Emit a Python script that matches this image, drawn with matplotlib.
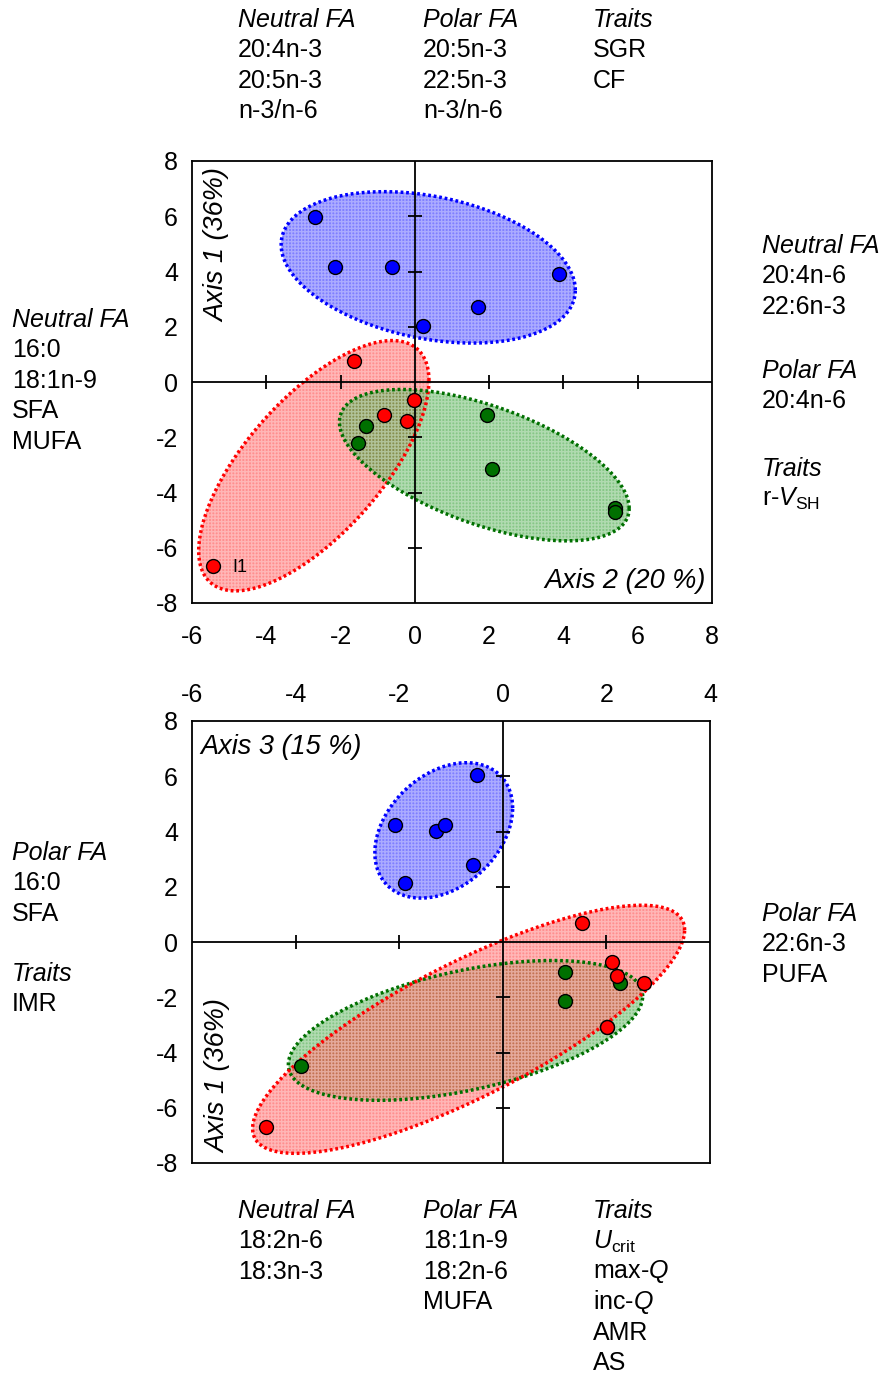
import numpy as np
import matplotlib.pyplot as plt

plt.rcParams['font.family'] = ['Liberation Sans', 'DejaVu Sans']
plt.rcParams['mathtext.fontset'] = 'custom'
plt.rcParams['mathtext.rm'] = 'Liberation Sans'
plt.rcParams['mathtext.it'] = 'Liberation Sans:italic'
plt.rcParams['axes.unicode_minus'] = False

W, H = 883, 1376

# ---- data: top panel (x = Axis 2, y = Axis 1) ----
top_blue_x = [-2.68, -2.14, -0.62, 3.89, 1.71, 0.23]
top_blue_y = [5.96, 4.15, 4.15, 3.92, 2.72, 2.03]
top_red_x = [-1.63, -0.01, -0.83, -0.22, -5.44]
top_red_y = [0.77, -0.66, -1.20, -1.42, -6.65]
top_green_x = [-1.31, -1.52, 1.94, 2.08, 5.39, 5.39]
top_green_y = [-1.60, -2.20, -1.18, -3.16, -4.55, -4.72]

# ellipses: centre x, centre y, half extent x, half extent y, correlation
top_ell_blue = [0.36, 4.15, 3.96, 2.74, -0.30]
top_ell_red = [-2.72, -3.03, 3.10, 4.53, 0.68]
top_ell_green = [1.87, -3.01, 3.90, 2.74, -0.57]

# ---- data: bottom panel (x = Axis 3, y = Axis 1) ----
bot_blue_x = [-0.49, -2.09, -1.29, -1.11, -0.57, -1.88]
bot_blue_y = [6.05, 4.22, 4.02, 4.22, 2.80, 2.13]
bot_red_x = [1.53, 2.11, 2.21, 2.73, 2.01, -4.58]
bot_red_y = [0.70, -0.72, -1.22, -1.47, -3.06, -6.69]
bot_green_x = [1.21, 1.21, 2.26, 2.01, -3.89]
bot_green_y = [-1.10, -2.12, -1.49, -3.06, -4.50]

bot_ell_blue = [-1.14, 4.04, 1.33, 2.45, 0.33]
bot_ell_red = [-0.66, -3.16, 4.17, 4.49, 0.80]
bot_ell_green = [-0.72, -3.20, 3.42, 2.53, 0.49]

top_xticks = [-6, -4, -2, 0, 2, 4, 6, 8]
bot_xticks = [-6, -4, -2, 0, 2, 4]
yticks = [-8, -6, -4, -2, 0, 2, 4, 6, 8]

BLUE, RED, GREEN = '#0000ff', '#ff0000', '#007000'
FILL = {BLUE: '#0000ff', RED: '#ff2020', GREEN: '#109010'}


def ellipse_xy(params, n=200):
    cx, cy, rx, ry, rho = params
    S = np.array([[rx * rx, rho * rx * ry], [rho * rx * ry, ry * ry]])
    L = np.linalg.cholesky(S)
    t = np.linspace(0, 2 * np.pi, n)
    pts = L @ np.vstack([np.cos(t), np.sin(t)])
    return pts[0] + cx, pts[1] + cy


def draw_ellipse(ax, params, color):
    ex, ey = ellipse_xy(params)
    ax.fill(ex, ey, facecolor=FILL[color], alpha=0.5, lw=0, zorder=2)
    ax.fill(ex, ey, facecolor='none', hatch='+++++', edgecolor='white',
            alpha=0.35, lw=0, zorder=2)
    ax.plot(ex, ey, linestyle=(0, (0.8, 0.8)), color=color, lw=2.5, zorder=3)


def draw_points(ax, xs, ys, color):
    ax.plot(xs, ys, 'o', markersize=10, markerfacecolor=color,
            markeredgecolor='black', markeredgewidth=1, zorder=4)


def setup_axes(ax, xlim, xticks, top_labels):
    ax.set_xlim(xlim)
    ax.set_ylim(-8, 8)
    ax.set_xticks(xticks)
    ax.set_yticks(yticks)
    ax.tick_params(length=0, labelsize=18, pad=10)
    if top_labels:
        ax.xaxis.set_ticks_position('top')
        ax.tick_params(axis='x', pad=10)
    else:
        ax.tick_params(axis='x', pad=16)
    for sp in ax.spines.values():
        sp.set_linewidth(1.3)
    ax.axhline(0, color='black', lw=1.3, zorder=3.5)
    ax.axvline(0, color='black', lw=1.3, zorder=3.5)
    inner_x = [t for t in xticks if t not in (0, xlim[0], xlim[1])]
    inner_y = [t for t in yticks if t not in (0, -8, 8)]
    ax.plot(inner_x, [0] * len(inner_x), linestyle='none', marker='|',
            markersize=10, color='black', markeredgewidth=1.3, zorder=3.5)
    ax.plot([0] * len(inner_y), inner_y, linestyle='none', marker='_',
            markersize=10, color='black', markeredgewidth=1.3, zorder=3.5)


fig = plt.figure(figsize=(W / 100, H / 100), dpi=100)

# top panel
ax1 = fig.add_axes([192 / W, 1 - 603 / H, (712 - 192) / W, (603 - 161) / H])
setup_axes(ax1, (-6, 8), top_xticks, top_labels=False)
draw_ellipse(ax1, top_ell_blue, BLUE)
draw_points(ax1, top_blue_x, top_blue_y, BLUE)
draw_ellipse(ax1, top_ell_red, RED)
draw_points(ax1, top_red_x, top_red_y, RED)
draw_ellipse(ax1, top_ell_green, GREEN)
draw_points(ax1, top_green_x, top_green_y, GREEN)
ax1.annotate('I1', (top_red_x[-1], top_red_y[-1]), xytext=(14, -1),
             textcoords='offset points', va='center', fontsize=13, zorder=5)

# bottom panel
ax2 = fig.add_axes([192 / W, 1 - 1163 / H, (710 - 192) / W, (1163 - 721) / H])
setup_axes(ax2, (-6, 4), bot_xticks, top_labels=True)
draw_ellipse(ax2, bot_ell_blue, BLUE)
draw_points(ax2, bot_blue_x, bot_blue_y, BLUE)
draw_ellipse(ax2, bot_ell_green, GREEN)
draw_points(ax2, bot_green_x, bot_green_y, GREEN)
draw_ellipse(ax2, bot_ell_red, RED)
draw_points(ax2, bot_red_x, bot_red_y, RED)


def ftext(x, y, s, **kw):
    kw.setdefault('fontsize', 18)
    kw.setdefault('va', 'center')
    kw.setdefault('ha', 'left')
    fig.text(x / W, 1 - y / H, s, **kw)


# axis labels inside the panels
ftext(217, 245, 'Axis 1 (36%)', rotation=90, ha='center', style='italic', fontsize=19.5)
ftext(706, 581, 'Axis 2 (20 %)', ha='right', style='italic', fontsize=19.5)
ftext(200, 747, 'Axis 3 (15 %)', style='italic', fontsize=19.5)
ftext(218, 1076, 'Axis 1 (36%)', rotation=90, ha='center', style='italic', fontsize=19.5)


def block(x, y0, header, lines, step=30.4):
    ftext(x, y0, header, style='italic')
    for i, s in enumerate(lines):
        ftext(x, y0 + step * (i + 1), s)


block(238, 20, 'Neutral FA', ['20:4n-3', '20:5n-3', 'n-3/n-6'])
block(423, 20, 'Polar FA', ['20:5n-3', '22:5n-3', 'n-3/n-6'])
block(593, 20, 'Traits', ['SGR', 'CF'])

block(762, 246, 'Neutral FA', ['20:4n-6', '22:6n-3'])
block(762, 371, 'Polar FA', ['20:4n-6'])
block(762, 469, 'Traits', [r'r-$V_{\mathrm{SH}}$'])

block(12, 320, 'Neutral FA', ['16:0', '18:1n-9', 'SFA', 'MUFA'])

block(12, 853, 'Polar FA', ['16:0', 'SFA'])
block(12, 974, 'Traits', ['IMR'])
block(762, 914, 'Polar FA', ['22:6n-3', 'PUFA'])

block(238, 1211, 'Neutral FA', ['18:2n-6', '18:3n-3'])
block(423, 1211, 'Polar FA', ['18:1n-9', '18:2n-6', 'MUFA'])
block(593, 1211, 'Traits', [r'$U_{\mathrm{crit}}$', r'max-$Q$', r'inc-$Q$', 'AMR', 'AS'])

fig.savefig('out.png', dpi=100)
